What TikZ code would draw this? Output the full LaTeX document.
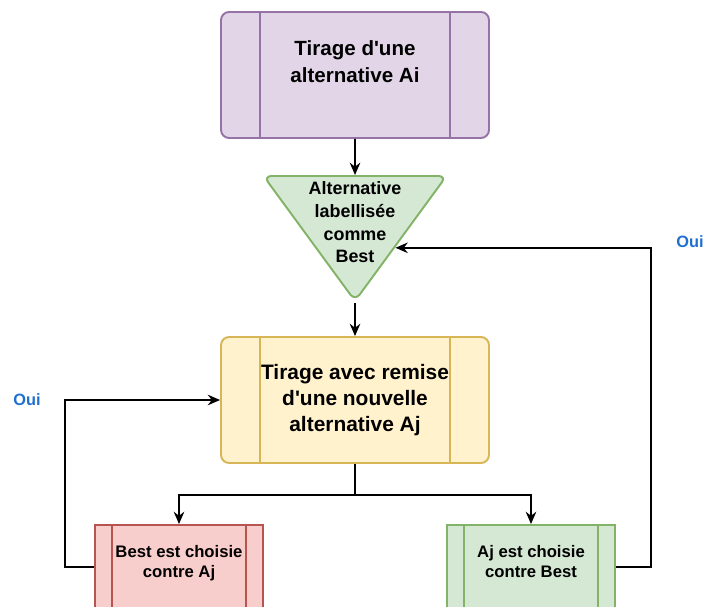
\documentclass[tikz,border=0pt]{standalone}
\usepackage{fontspec}
\setmainfont{Liberation Sans}
\usetikzlibrary{shapes.geometric,arrows.meta}

\definecolor{lilacfill}{HTML}{E1D5E7}
\definecolor{lilacline}{HTML}{9673A6}
\definecolor{sandfill}{HTML}{FFF2CC}
\definecolor{sandline}{HTML}{D6B656}
\definecolor{rosefill}{HTML}{F8CECC}
\definecolor{roseline}{HTML}{B85450}
\definecolor{mintfill}{HTML}{D5E8D4}
\definecolor{mintline}{HTML}{82B366}
\definecolor{ouiblue}{HTML}{1F6FD0}

\tikzset{
  box/.style={draw=#1, line width=1.1pt, align=center, inner sep=0pt},
  bars/.style 2 args={path picture={\draw[line width=1.1pt, #2]
      ([xshift=#1]path picture bounding box.north west) -- ([xshift=#1]path picture bounding box.south west)
      ([xshift=-#1]path picture bounding box.north east) -- ([xshift=-#1]path picture bounding box.south east);}},
  bigbox/.style={box=#1, rounded corners=0.16cm, minimum width=5.36cm, minimum height=2.52cm, bars={0.78cm}{#1}},
  smallbox/.style={box=#1, minimum width=3.36cm, minimum height=1.68cm, bars={0.34cm}{#1}},
  tri/.style={isosceles triangle, shape border rotate=270, isosceles triangle stretches,
      minimum width=3.66cm, minimum height=2.5cm, rounded corners=0.16cm, draw=mintline, fill=mintfill,
      line width=1.1pt, inner sep=-30pt, align=center},
  arr/.style={-{Stealth[length=7pt,width=6pt]}, line width=0.9pt},
  oui/.style={text=ouiblue, font=\bfseries\fontsize{9.3}{11}\selectfont},
}

\begin{document}
\begin{tikzpicture}[x=0.02cm, y=-0.02cm]
    \useasboundingbox (0,0) rectangle (705,607);
    \clip (0,0) rectangle (705,607);

    \node [bigbox=lilacline, fill=lilacfill, text depth=15pt, font=\bfseries\fontsize{11.7}{15.3}\selectfont] (ai) at (355,75) {Tirage d\textquotesingle une\\alternative Ai};
    \node [tri, anchor=north, font=\bfseries\fontsize{10.2}{12.9}\selectfont] (best) at (355,175) {Alternative\\labellisée\\comme\\Best};
    \node [bigbox=sandline, fill=sandfill, font=\bfseries\fontsize{11.9}{15}\selectfont] (aj) at (355,400) {Tirage avec remise\\d\textquotesingle une nouvelle\\alternative Aj};
    \node [smallbox=roseline, fill=rosefill, text depth=6pt, font=\bfseries\fontsize{9.5}{11.3}\selectfont] (bestwin) at (179,567) {Best est choisie\\contre Aj};
    \node [smallbox=mintline, fill=mintfill, text depth=6pt, font=\bfseries\fontsize{9.5}{11.3}\selectfont] (ajwin) at (531,567) {Aj est choisie\\contre Best};
    \node [oui] (ouileft) at (27,400) {Oui};
    \node [oui] (ouiright) at (690,242) {Oui};
    \coordinate (split) at (355,495);

    \draw[arr] (ai) -- (best);
    \draw[arr] (best.apex) -- (aj);
    \draw[line width=0.9pt] (aj) -- (split);
    \draw[arr] (split) -| (bestwin);
    \draw[arr] (split) -| (ajwin);
    \draw[arr] (bestwin.west) -- ++(-29,0) |- (aj);
    \draw[arr] (ajwin.east) -- ++(35,0) |- (best.-32);
\end{tikzpicture}
\end{document}
